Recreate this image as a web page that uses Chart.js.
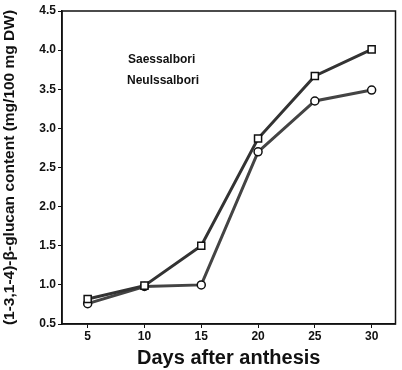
<!DOCTYPE html>
<html>
<head>
<meta charset="utf-8">
<script src="https://cdn.jsdelivr.net/npm/chart.js@4/dist/chart.umd.min.js"></script>
<style>
  html, body { margin: 0; padding: 0; background: #fff; }
  #wrap { width: 402px; height: 370px; }
</style>
</head>
<body>
<div id="wrap"><canvas id="betaChart" width="402" height="370"></canvas></div>
<script>
// data
const days = [5, 10, 15, 20, 25, 30];
const saessalbori = [0.82, 0.99, 1.50, 2.87, 3.67, 4.01];
const neulssalbori = [0.76, 0.98, 1.00, 2.70, 3.35, 3.49];
const seriesNames = ['Saessalbori', 'Neulssalbori'];
const xTicks = [5, 10, 15, 20, 25, 30];
const yTicks = [0.5, 1.0, 1.5, 2.0, 2.5, 3.0, 3.5, 4.0, 4.5];

const FONT = '"Liberation Sans", Arial, sans-serif';

function toPoints(vals) {
    return days.map((d, i) => ({ x: d, y: vals[i] }));
}

// frame round the plot area + text legend
const framePlugin = {
    id: 'frame',
    afterDraw(chart) {
        const { ctx, chartArea: a } = chart;
        ctx.save();
        ctx.strokeStyle = '#111';
        ctx.lineWidth = 1.5;
        ctx.strokeRect(a.left, a.top, a.right - a.left, a.bottom - a.top);

        ctx.fillStyle = '#111';
        ctx.font = 'bold 12px ' + FONT;
        ctx.textBaseline = 'middle';
        ctx.fillText(seriesNames[0], a.left + 66, a.top + 49);
        ctx.fillText(seriesNames[1], a.left + 65, a.top + 70);
        ctx.restore();
    }
};

new Chart(document.getElementById('betaChart'), {
    type: 'line',
    data: {
        datasets: [{
            label: seriesNames[0],
            data: toPoints(saessalbori),
            borderColor: '#333',
            borderWidth: 3,
            pointStyle: 'rect',
            pointRadius: 5,
            pointBackgroundColor: '#fff',
            pointBorderColor: '#111',
            pointBorderWidth: 1.5,
            tension: 0
        }, {
            label: seriesNames[1],
            data: toPoints(neulssalbori),
            borderColor: '#444',
            borderWidth: 3,
            pointStyle: 'circle',
            pointRadius: 4,
            pointBackgroundColor: '#fff',
            pointBorderColor: '#111',
            pointBorderWidth: 1.5,
            tension: 0
        }]
    },
    options: {
        responsive: false,
        animation: false,
        layout: { padding: { top: 11, right: 3, left: 0, bottom: 0 } },
        plugins: {
            legend: { display: false },
            tooltip: { enabled: false }
        },
        scales: {
            x: {
                type: 'linear',
                min: 2.74,
                max: 32.1,
                afterBuildTicks: scale => { scale.ticks = xTicks.map(v => ({ value: v })); },
                afterFit: scale => { scale.height = 46; },
                grid: { drawOnChartArea: false, tickLength: 4, color: '#111' },
                border: { color: '#111', width: 1.5 },
                ticks: {
                    color: '#111',
                    font: { family: FONT, size: 12, weight: 'bold' },
                    padding: 1,
                    maxRotation: 0
                },
                title: {
                    display: true,
                    text: 'Days after anthesis',
                    color: '#111',
                    font: { family: FONT, size: 20, weight: 'bold' },
                    padding: { top: 0, bottom: 0 }
                }
            },
            y: {
                min: 0.5,
                max: 4.5,
                afterBuildTicks: scale => { scale.ticks = yTicks.map(v => ({ value: v })); },
                afterFit: scale => { scale.width = 62; },
                grid: { drawOnChartArea: false, tickLength: 4, color: '#111' },
                border: { color: '#111', width: 1.5 },
                ticks: {
                    color: '#111',
                    font: { family: FONT, size: 12, weight: 'bold' },
                    padding: 2,
                    callback: v => v.toFixed(1)
                },
                title: {
                    display: true,
                    text: '(1-3,1-4)-β-glucan content (mg/100 mg DW)',
                    color: '#111',
                    font: { family: FONT, size: 15.5, weight: 'bold' },
                    padding: { top: 0, bottom: 2 }
                }
            }
        }
    },
    plugins: [framePlugin]
});
</script>
</body>
</html>
